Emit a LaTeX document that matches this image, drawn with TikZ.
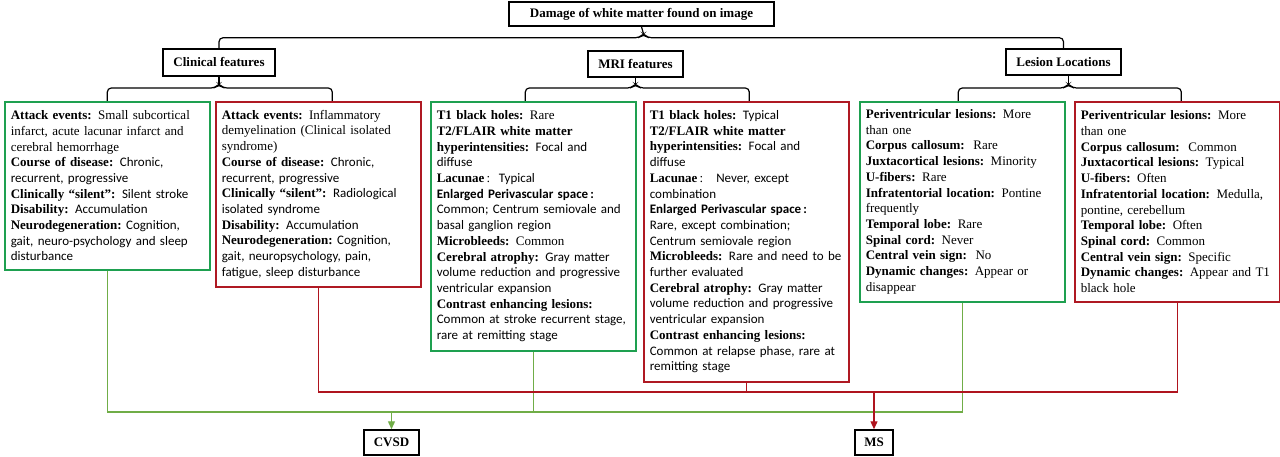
\documentclass[tikz,border=0pt]{standalone}
\usepackage{fontspec}
\setmainfont{Liberation Serif}
\newfontfamily\calfont{Carlito}
\usepackage{tikz}
\usetikzlibrary{arrows.meta, calc}

\definecolor{boxgreen}{RGB}{30,160,80}
\definecolor{boxred}{RGB}{175,25,35}
\definecolor{linegreen}{RGB}{112,173,71}
\definecolor{linered}{RGB}{175,20,30}

\newcommand{\lab}[1]{\textbf{#1}}
\newcommand{\cv}[1]{{\calfont #1}}
\newcommand{\cb}[1]{{\calfont\bfseries #1}}

\begin{document}
\begin{tikzpicture}[x=1pt, y=-1pt,
  every node/.style={font=\fontsize{13}{15.7}\selectfont},
  head/.style={draw, line width=1.5pt, font=\fontsize{13}{15.7}\selectfont\bfseries, inner sep=0pt},
  fbox/.style={draw, line width=1.6pt, anchor=north west, text width=193pt, inner xsep=6pt, inner ysep=3pt, align=left},
  gbox/.style={fbox, draw=boxgreen},
  rbox/.style={fbox, draw=boxred},
  bracket/.style={line width=1.2pt, rounded corners=4pt},
  gline/.style={draw=linegreen, line width=1.3pt},
  rline/.style={draw=linered, line width=1.3pt},
  tip/.style={-{Triangle[length=8pt, width=7pt]}}
]
\useasboundingbox (0,0) rectangle (1280,457);

% headings
\node[head, minimum width=265pt, minimum height=24pt] (top) at (641.5,14) {Damage of white matter found on image};
\node[head, minimum width=112pt, minimum height=27pt] (clin) at (219,62.5) {Clinical features};
\node[head, minimum width=95pt, minimum height=26pt] (mri) at (635.5,64) {MRI features};
\node[head, minimum width=115pt, minimum height=26pt] (les) at (1063.5,62) {Lesion Locations};

% clinical features
\node[gbox, minimum height=168pt] (cvsclin) at (4,101) {%
\lab{Attack events:} Small subcortical\\
infarct, acute lacunar infarct and\\
cerebral hemorrhage\\
\lab{Course of disease:} \cv{Chronic,}\\
\cv{recurrent, progressive}\\
\lab{Clinically “silent”:} \cv{Silent stroke}\\
\lab{Disability:} \cv{Accumulation}\\
\lab{Neurodegeneration:}\ \cv{Cognition,}\\
\cv{gait, neuro-psychology and sleep}\\
\cv{disturbance}};
\node[rbox, minimum height=185pt] (msclin) at (215,101) {%
\lab{Attack events:} Inflammatory\\
demyelination (Clinical isolated\\
syndrome)\\
\lab{Course of disease:} \cv{Chronic,}\\
\cv{recurrent, progressive}\\
\lab{Clinically “silent”:} \cv{Radiological}\\
\cv{isolated syndrome}\\
\lab{Disability:} \cv{Accumulation}\\
\lab{Neurodegeneration:}\ \cv{Cognition,}\\
\cv{gait, neuropsychology, pain,}\\
\cv{fatigue, sleep disturbance}};

% MRI features
\node[gbox, minimum height=249pt] (cvsmri) at (430,101) {%
\lab{T1 black holes:} Rare\\
\lab{T2/FLAIR white matter}\\
\lab{hyperintensities:} \cv{Focal and}\\
\cv{diffuse}\\
\lab{Lacunae}\,:\ \ \cv{Typical}\\
\cb{Enlarged Perivascular space\,:}\\
\cv{Common; Centrum semiovale and}\\
\cv{basal ganglion region}\\
\lab{Microbleeds:} Common\\
\lab{Cerebral atrophy:} \cv{Gray matter}\\
\cv{volume reduction and progressive}\\
\cv{ventricular expansion}\\
\lab{Contrast enhancing lesions:}\\
\cv{Common at stroke recurrent stage,}\\
\cv{rare at remitting stage}};
\node[rbox, minimum height=280pt] (msmri) at (643,101) {%
\lab{T1 black holes:} \cv{Typical}\\
\lab{T2/FLAIR white matter}\\
\lab{hyperintensities:} \cv{Focal and}\\
\cv{diffuse}\\
\lab{Lacunae}\,:\ \ \ \cv{Never, except}\\
\cv{combination}\\
\cb{Enlarged Perivascular space\,:}\\
\cv{Rare, except combination;}\\
\cv{Centrum semiovale region}\\
\lab{Microbleeds:} \cv{Rare and need to be}\\
\cv{further evaluated}\\
\lab{Cerebral atrophy:} \cv{Gray matter}\\
\cv{volume reduction and progressive}\\
\cv{ventricular expansion}\\
\lab{Contrast enhancing lesions:}\\
\cv{Common at relapse phase, rare at}\\
\cv{remitting stage}};

% lesion locations
\node[gbox, minimum height=200pt] (cvsles) at (859,101) {%
\lab{Periventricular lesions:} More\\
than one\\
\lab{Corpus callosum:}\ \ Rare\\
\lab{Juxtacortical lesions:} Minority\\
\lab{U-fibers:} Rare\\
\lab{Infratentorial location:} Pontine\\
frequently\\
\lab{Temporal lobe:} Rare\\
\lab{Spinal cord:} Never\\
\lab{Central vein sign:}\ \ No\\
\lab{Dynamic changes:} Appear or\\
disappear};
\node[rbox, minimum height=200pt] (msles) at (1074,101) {%
\lab{Periventricular lesions:} More\\
than one\\
\lab{Corpus callosum:}\ \ Common\\
\lab{Juxtacortical lesions:} Typical\\
\lab{U-fibers:} Often\\
\lab{Infratentorial location:} Medulla,\\
pontine, cerebellum\\
\lab{Temporal lobe:} Often\\
\lab{Spinal cord:} Common\\
\lab{Central vein sign:} Specific\\
\lab{Dynamic changes:} Appear and T1\\
black hole};

% diagnoses
\node[head, minimum width=55pt, minimum height=25pt] (cvsd) at (391.5,442.5) {CVSD};
\node[head, minimum width=38pt, minimum height=25pt] (ms) at (874,442.5) {MS};

% brackets
\coordinate (topfork) at ($(top.south)+(2,7)$);
\draw[bracket] (top.south) -- (topfork);
\draw[bracket] (clin.north) |- ($(topfork)+(-4,4)$) -- (topfork) -- ($(topfork)+(4,4)$) -| (les.north);

\coordinate (clinfork) at (clin.south |- 0,84);
\draw[bracket] (clin.south) -- (clinfork);
\draw[bracket] (cvsclin.north) |- ($(clinfork)+(-4,4)$) -- (clinfork) -- ($(clinfork)+(4,4)$) -| ($(msclin.north)+(14,0)$);

\coordinate (mrifork) at (mri.south |- 0,84);
\draw[bracket] (mri.south) -- (mrifork);
\draw[bracket] ($(cvsmri.north)+(-8,0)$) |- ($(mrifork)+(-4,4)$) -- (mrifork) -- ($(mrifork)+(4,4)$) -| ($(msmri.north)+(3,0)$);

\coordinate (lesfork) at ($(les.south |- 0,84)+(5,0)$);
\draw[bracket] (lesfork |- les.south) -- (lesfork);
\draw[bracket] ($(cvsles.north)+(-4,0)$) |- ($(lesfork)+(-4,4)$) -- (lesfork) -- ($(lesfork)+(4,4)$) -| ($(msles.north)+(4,0)$);

% to diagnoses
\coordinate (gbus) at (0,412);
\coordinate (rbus) at (0,392);
\draw[gline] (cvsclin.south) |- (cvsles.south |- gbus) -- (cvsles.south);
\draw[gline] (cvsmri.south) -- (cvsmri.south |- gbus);
\draw[gline, tip, fill=linegreen] (cvsd.north |- gbus) -- (cvsd.north);
\draw[rline] (msclin.south) |- (msles.south |- rbus) -- (msles.south);
\draw[rline] (msmri.south) -- (msmri.south |- rbus);
\draw[rline, tip, fill=linered] (ms.north |- rbus) -- (ms.north);
\end{tikzpicture}
\end{document}
